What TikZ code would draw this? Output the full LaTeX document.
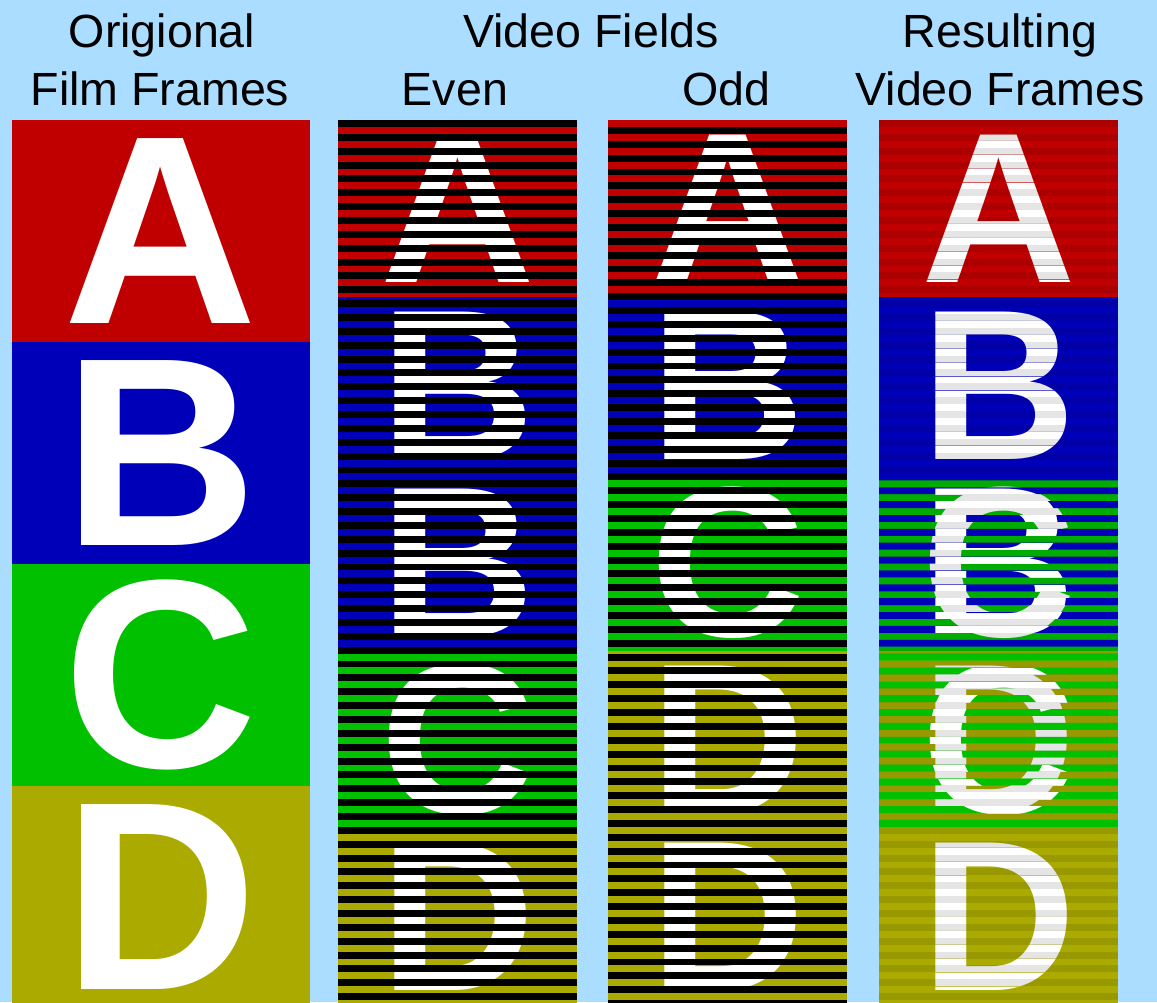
\documentclass[tikz,border=0pt]{standalone}
\usepackage{fontspec}
\setmainfont{Liberation Sans}

\definecolor{skyback}{RGB}{170,221,255}
\definecolor{framered}{RGB}{192,0,0}
\definecolor{frameblue}{RGB}{0,0,185}
\definecolor{framegreen}{RGB}{0,192,0}
\definecolor{frameolive}{RGB}{170,170,0}

% #1 name, #2 left, #3 top, #4 width, #5 height, #6 colour, #7 letter, #8 letter style
\newcommand{\drawframe}[8]{%
  \fill[#6] ({#2},{#3}) rectangle ++({#4},{#5});
  \node[#8] (#1) at ({#2+#4/2},{#3+#5/2}) {#7};
}

\begin{document}
\begin{tikzpicture}[
  x=0.02cm, y=-0.02cm,
  bigletter/.style={inner sep=0pt, text=white, font=\fontsize{153}{153}\selectfont\bfseries},
  fieldletter/.style={inner sep=0pt, text=white, font=\fontsize{122}{122}\selectfont\bfseries},
  heading/.style={anchor=base, inner sep=0pt, font=\fontsize{26.5}{30}\selectfont},
  dimline/.style={fill=black, fill opacity=0.1}
]
\fill[skyback] (0,0) rectangle (1157,1002);
\useasboundingbox (0,0) rectangle (1157,1002);

% headings
\node[heading] (orig-1) at (162,47) {Origional};
\node[heading] (orig-2) at (160,105) {Film Frames};
\node[heading] (fields) at (591,47) {Video Fields};
\node[heading] (even) at (455,105) {Even};
\node[heading] (odd) at (726,105) {Odd};
\node[heading] (result-1) at (1000,47) {Resulting};
\node[heading] (result-2) at (1000,105) {Video Frames};

% original film frames
\begin{scope}
  \clip (12,120) rectangle (310,1002);
  \foreach \c/\l [count=\i from 0] in {framered/A, frameblue/B, framegreen/C, frameolive/D}
    {\drawframe{film-\l}{12}{120+222*\i}{298}{222}{\c}{\l}{bigletter}}
\end{scope}

% even field
\begin{scope}
  \clip (338,120) rectangle (577,1002);
  \foreach \c/\l [count=\i from 0] in {framered/A, frameblue/B, frameblue/B, framegreen/C, frameolive/D}
    {\drawframe{even-\i}{338}{120+177*\i}{239}{177}{\c}{\l}{fieldletter}}
  \foreach \k in {0,...,63}
    \fill[black] (338,{120+13.86*\k}) rectangle (577,{126.93+13.86*\k});
\end{scope}

% odd field
\begin{scope}
  \clip (608,120) rectangle (847,1002);
  \foreach \c/\l [count=\i from 0] in {framered/A, frameblue/B, framegreen/C, frameolive/D, frameolive/D}
    {\drawframe{odd-\i}{608}{120+177*\i}{239}{177}{\c}{\l}{fieldletter}}
  \foreach \k in {0,...,63}
    \fill[black] (608,{126.93+13.86*\k}) rectangle (847,{133.86+13.86*\k});
\end{scope}

% resulting video frames
\begin{scope}
  \clip (879,120) rectangle (1118,1002);
  \foreach \c/\l [count=\i from 0] in {framered/A, frameblue/B, framegreen/C, frameolive/D, frameolive/D}
    {\drawframe{res-odd-\i}{879}{120+177*\i}{239}{177}{\c}{\l}{fieldletter}}
  \begin{scope}
    \clip \foreach \k in {0,...,63} {(879,{126.93+13.86*\k}) rectangle (1118,{133.86+13.86*\k})};
    \foreach \c/\l [count=\i from 0] in {framered/A, frameblue/B, frameblue/B, framegreen/C, frameolive/D}
      {\drawframe{res-even-\i}{879}{120+177*\i}{239}{177}{\c}{\l}{fieldletter}}
  \end{scope}
  \foreach \k in {0,...,63}
    \fill[dimline] (879,{120+13.86*\k}) rectangle (1118,{126.93+13.86*\k});
\end{scope}
\end{tikzpicture}
\end{document}
